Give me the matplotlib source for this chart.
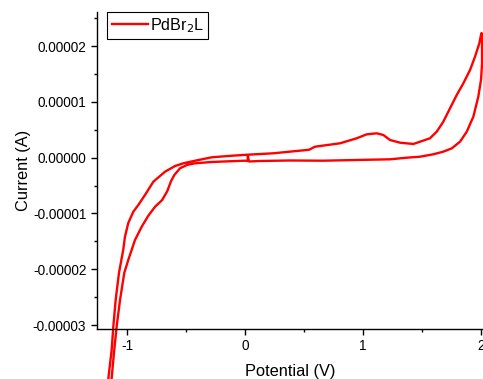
import matplotlib
matplotlib.use("Agg")
import matplotlib.pyplot as plt
from matplotlib.ticker import FixedLocator, MultipleLocator
import numpy as np

plt.rcParams['font.family'] = ['Liberation Sans', 'DejaVu Sans']

# Potential (V) and current (1e-5 A) traced along the CV loop
# inner branch: from start point going negative
v_inner = [0.025, 0.021, 0.0, -0.142, -0.283, -0.424, -0.492, -0.552, -0.600, -0.628,
           -0.660, -0.704, -0.764, -0.821, -0.877, -0.934, -0.991, -1.025, -1.061, -1.089,
           -1.110, -1.132, -1.142, -1.154]
i_inner = [0.013, -0.059, -0.054, -0.065, -0.077, -0.100, -0.129, -0.190, -0.310, -0.420,
           -0.600, -0.760, -0.880, -1.040, -1.237, -1.475, -1.833, -2.066, -2.550, -3.016,
           -3.446, -3.948, -4.16, -4.27]
# outer branch back up and anodic upper branch to 2 V
v_upper = [-1.169, -1.160, -1.132, -1.118, -1.098, -1.070, -1.034, -1.019, -0.991, -0.948,
           -0.906, -0.849, -0.778, -0.679, -0.594, -0.523, -0.424, -0.283, -0.144, -0.025,
           0.240, 0.524, 0.543, 0.594, 0.806, 0.948, 1.033, 1.118, 1.174, 1.231, 1.316,
           1.429, 1.486, 1.570, 1.627, 1.683, 1.740, 1.797, 1.853, 1.910, 1.952, 1.989,
           2.003, 2.008]
i_upper = [-4.16, -3.953, -3.446, -3.029, -2.550, -2.066, -1.654, -1.416, -1.170, -0.968,
           -0.848, -0.668, -0.430, -0.251, -0.149, -0.100, -0.054, 0.007, 0.030, 0.048,
           0.079, 0.138, 0.142, 0.197, 0.258, 0.348, 0.419, 0.437, 0.407, 0.317, 0.269,
           0.246, 0.287, 0.348, 0.466, 0.645, 0.885, 1.124, 1.333, 1.572, 1.810, 2.050,
           2.199, 2.235]
# return (cathodic) branch from 2 V back to start
v_return = [2.012, 2.012, 2.003, 1.980, 1.938, 1.882, 1.825, 1.755, 1.683, 1.598, 1.486,
            1.373, 1.231, 0.948, 0.662, 0.382, 0.127, 0.034, 0.025]
i_return = [2.109, 1.692, 1.393, 1.093, 0.735, 0.466, 0.287, 0.168, 0.108, 0.061, 0.018,
            0.0, -0.029, -0.041, -0.054, -0.050, -0.059, -0.068, 0.013]

x_ticks = [-1, 0, 1, 2]
y_ticks = [-3e-5, -2e-5, -1e-5, 0.0, 1e-5, 2e-5]
y_labels = ["-0.00003", "-0.00002", "-0.00001", "0.00000", "0.00001", "0.00002"]

V = np.array(v_inner + v_upper + v_return)
I = np.array(i_inner + i_upper + i_return) * 1e-5

fig = plt.figure(figsize=(4.83, 3.79), dpi=100)
ax = fig.add_axes([0.2002, 0.132, 0.7998, 0.837])
ax.plot(V, I, color='#ff0000', lw=1.7, clip_on=False, label='PdBr$_2$L',
        solid_joinstyle='round')
ax.set_xlim(-1.259, 2.02)
ax.set_ylim(-3.07e-5, 2.616e-5)

for s in ['top', 'right']:
    ax.spines[s].set_visible(False)
for s in ['left', 'bottom']:
    ax.spines[s].set_linewidth(1.0)

ax.xaxis.set_major_locator(FixedLocator(x_ticks))
ax.xaxis.set_minor_locator(MultipleLocator(0.5))
ax.set_xticklabels([str(t) for t in x_ticks])
ax.yaxis.set_major_locator(FixedLocator(y_ticks))
ax.yaxis.set_minor_locator(MultipleLocator(0.5e-5))
ax.set_yticklabels(y_labels)
ax.tick_params(which='major', direction='out', length=4.5, width=1.0, labelsize=9.8, pad=3)
ax.tick_params(which='minor', direction='out', length=2.5, width=1.0)

ax.set_xlabel('Potential (V)', fontsize=11.8, labelpad=7.5)
ax.set_ylabel('Current (A)', fontsize=11.8, labelpad=1.5)

leg = ax.legend(loc='upper left', bbox_to_anchor=(0.0274, 1.0), borderaxespad=0,
                fontsize=11.6, fancybox=False, edgecolor='black', framealpha=1,
                handlelength=2.25, handletextpad=0.12, borderpad=0.27)
leg.get_frame().set_linewidth(0.8)

fig.savefig('out.png', dpi=100)
